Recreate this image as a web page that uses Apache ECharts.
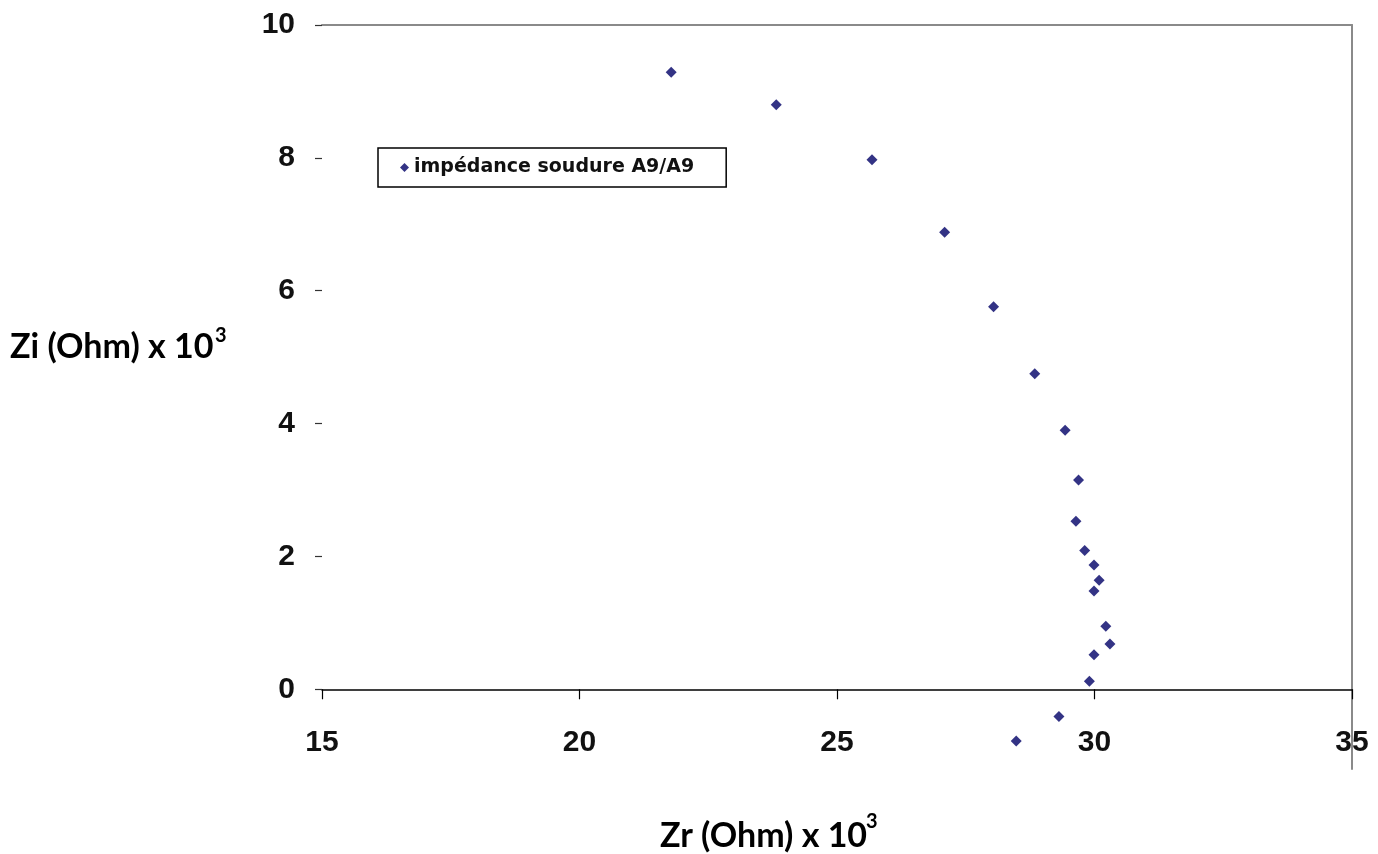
<!DOCTYPE html>
<html>
<head>
<meta charset="utf-8">
<script src="https://cdn.jsdelivr.net/npm/echarts@6/dist/echarts.min.js"></script>
<style>
html,body{margin:0;padding:0;background:#fff;}
#chart{width:1378px;height:854px;}
</style>
</head>
<body>
<div id="chart"></div>
<script>
// Data: Zr (x 10^3 Ohm), Zi (x 10^3 Ohm)
const seriesName = 'impédance soudure A9/A9';
const zr = [21.78, 23.82, 25.68, 27.09, 28.04, 28.84, 29.43, 29.69, 29.64, 29.81, 29.99, 30.09, 29.99, 30.22, 30.30, 29.99, 29.90, 29.31, 28.48];
const zi = [9.29, 8.80, 7.97, 6.88, 5.76, 4.75, 3.90, 3.15, 2.53, 2.09, 1.87, 1.64, 1.48, 0.95, 0.68, 0.52, 0.12, -0.41, -0.78];
const yTickValues = [0, 2, 4, 6, 8, 10];
const xTitle = 'Zr (Ohm) x 10';
const yTitle = 'Zi (Ohm) x 10';
const sup = '3';

const points = zr.map((x, i) => [x, zi[i]]);

const chart = echarts.init(document.getElementById('chart'), null, {renderer: 'canvas'});
const tickFont = {fontFamily: '"Liberation Sans", Arial', fontWeight: 'bold', fontSize: 30, color: '#111'};
chart.setOption({
  backgroundColor: '#fff',
  animation: false,
  grid: {left: 322, right: 26, top: 25, bottom: 85, containLabel: false},
  legend: {
    data: [{name: seriesName, icon: 'diamond'}],
    left: 378, top: 148,
    orient: 'vertical',
    borderColor: '#000', borderWidth: 1.5,
    padding: [10, 32, 10, 22],
    itemWidth: 9, itemHeight: 9, itemGap: 4,
    textStyle: {fontFamily: 'DejaVu Sans, Verdana', fontWeight: 'bold', fontSize: 19, color: '#111'}
  },
  xAxis: [{
    type: 'value', min: 15, max: 35, interval: 5,
    position: 'bottom',
    axisLine: {show: true, onZero: true, lineStyle: {color: '#000', width: 1.5}},
    axisTick: {show: true, length: 10, inside: false, lineStyle: {color: '#000', width: 1.2}},
    axisLabel: Object.assign({margin: -41}, tickFont),
    splitLine: {show: false}
  }, {
    type: 'value', min: 15, max: 35, position: 'top',
    axisLine: {show: true, onZero: false, lineStyle: {color: '#8a8a8a', width: 2}},
    axisTick: {show: false}, axisLabel: {show: false}, splitLine: {show: false}
  }],
  yAxis: [{
    type: 'value', min: -1.2, max: 10,
    position: 'left',
    axisLine: {show: false, onZero: false},
    axisTick: {show: true, length: 7, customValues: yTickValues, lineStyle: {color: '#333', width: 1.2}},
    axisLabel: Object.assign({margin: 27, customValues: yTickValues}, tickFont),
    splitLine: {show: false}
  }, {
    type: 'value', min: -1.2, max: 10, position: 'right',
    axisLine: {show: true, onZero: false, lineStyle: {color: '#8a8a8a', width: 2}},
    axisTick: {show: false}, axisLabel: {show: false}, splitLine: {show: false}
  }],
  series: [{
    name: seriesName,
    type: 'scatter',
    xAxisIndex: 0, yAxisIndex: 0,
    symbol: 'diamond',
    symbolSize: 11,
    itemStyle: {color: '#000066'},
    data: points
  }],
  graphic: [
    {type: 'text', left: 10, top: 330, z: 10,
     style: {text: yTitle, font: 'bold 34px Lato, "Open Sans", sans-serif', fill: '#000'}},
    {type: 'text', left: 215, top: 326, z: 10,
     style: {text: sup, font: 'bold 20px Lato, "Open Sans", sans-serif', fill: '#000'}},
    {type: 'text', left: 660, top: 819, z: 10,
     style: {text: xTitle, font: 'bold 34px Lato, "Open Sans", sans-serif', fill: '#000'}},
    {type: 'text', left: 866, top: 812, z: 10,
     style: {text: sup, font: 'bold 20px Lato, "Open Sans", sans-serif', fill: '#000'}}
  ]
});
</script>
</body>
</html>
